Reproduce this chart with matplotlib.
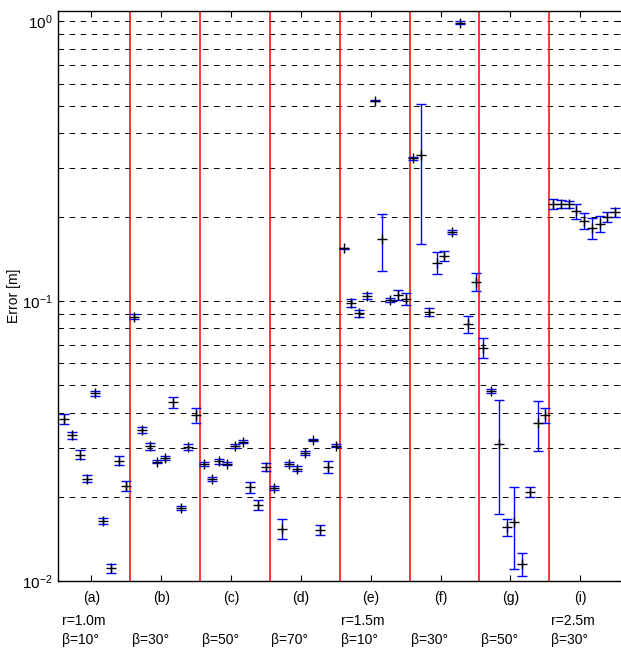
import numpy as np
import matplotlib
matplotlib.use("Agg")
import matplotlib.pyplot as plt
from matplotlib.transforms import blended_transform_factory

plt.rcParams["font.family"] = ["Liberation Sans", "DejaVu Sans"]
plt.rcParams["lines.scale_dashes"] = False

# one group per scenario, 9 runs each
group_labels = ["(a)", "(b)", "(c)", "(d)", "(e)", "(f)", "(g)", "(i)"]
radius_labels = ["r=1.0m", "", "", "", "r=1.5m", "", "", "r=2.5m"]
angle_labels = ["β=10°", "β=30°", "β=50°", "β=70°", "β=10°", "β=30°", "β=50°", "β=30°"]

error_mean = [
    [0.0379, 0.0332, 0.0283, 0.0232, 0.0468, 0.0164, 0.0111, 0.0269, 0.0219],
    [0.0880, 0.0346, 0.0303, 0.0267, 0.0275, 0.0436, 0.0183, 0.0302, 0.0391],
    [0.0262, 0.0231, 0.0268, 0.0263, 0.0304, 0.0315, 0.0216, 0.0187, 0.0256],
    [0.0215, 0.0154, 0.0262, 0.0252, 0.0286, 0.0319, 0.0152, 0.0256, 0.0305],
    [0.1546, 0.0988, 0.0905, 0.1046, 0.5200, 0.1665, 0.1010, 0.1052, 0.1018],
    [0.3246, 0.3335, 0.0912, 0.1373, 0.1455, 0.1764, 0.9900, 0.0829, 0.1174],
    [0.0682, 0.0478, 0.0308, 0.0156, 0.0163, 0.0115, 0.0208, 0.0366, 0.0392],
    [0.2228, 0.2228, 0.2218, 0.2094, 0.1943, 0.1832, 0.1886, 0.2001, 0.2077],
]

error_std = [
    [0.0015, 0.0009, 0.0010, 0.0007, 0.0010, 0.0004, 0.0004, 0.0010, 0.0009],
    [0.0017, 0.0008, 0.0008, 0.0003, 0.0004, 0.0020, 0.0003, 0.0007, 0.0025],
    [0.0004, 0.0004, 0.0006, 0.0004, 0.0005, 0.0003, 0.0010, 0.0007, 0.0008],
    [0.0004, 0.0013, 0.0005, 0.0005, 0.0005, 0.0003, 0.0006, 0.0013, 0.0003],
    [0.0010, 0.0033, 0.0025, 0.0025, 0.0020, 0.0380, 0.0015, 0.0044, 0.0050],
    [0.0040, 0.1730, 0.0030, 0.0125, 0.0060, 0.0030, 0.0100, 0.0060, 0.0085],
    [0.0054, 0.0008, 0.0135, 0.0011, 0.0053, 0.0011, 0.0008, 0.0075, 0.0025],
    [0.0095, 0.0080, 0.0070, 0.0130, 0.0130, 0.0160, 0.0125, 0.0075, 0.0070],
]

n_groups = len(error_mean)
n_runs = len(error_mean[0])
means = np.concatenate(error_mean)
stds = np.concatenate(error_std)
x = np.arange(1, n_groups * n_runs + 1)

fig = plt.figure(figsize=(6.21, 6.48), dpi=100)
ax = fig.add_axes([58 / 621, 67 / 648, 565 / 621, 570 / 648])

ax.set_yscale("log")
ax.set_ylim(0.01, 1.09)
ax.set_xlim(0.2, 73)

ax.grid(True, which="both", axis="y", color="k", linestyle=(0, (4, 4)), linewidth=0.7)
ax.set_axisbelow(True)

for k in range(1, n_groups):
    ax.axvline(k * n_runs + 0.5, color="red", linewidth=1.1, zorder=2)

ax.errorbar(x, means, yerr=stds, fmt="none", ecolor="#0000ff", elinewidth=1.0,
            capsize=3.6, capthick=1.0, zorder=3)
ax.plot(x, means, "+", color="k", markersize=6.5, markeredgewidth=1.0, zorder=4)

centers = np.arange(n_groups) * n_runs + 4.5
ax.set_xticks(centers)
ax.set_xticklabels(group_labels, fontsize=10)
ax.tick_params(axis="both", which="both", direction="in", top=True, right=True)
ax.tick_params(axis="x", length=4, pad=7)
ax.tick_params(axis="y", which="major", length=4, labelsize=11, pad=4)
ax.tick_params(axis="y", which="minor", length=2)

for spine in ax.spines.values():
    spine.set_linewidth(1.0)

ax.set_ylabel("Error [m]", fontsize=10)
ax.yaxis.set_label_coords(-0.066, 0.5)

trans = blended_transform_factory(ax.transData, fig.transFigure)
for k in range(n_groups):
    x0 = k * n_runs + 0.7
    if radius_labels[k]:
        ax.text(x0, 1 - 621 / 648, radius_labels[k], transform=trans,
                ha="left", va="center", fontsize=10, clip_on=False)
    ax.text(x0, 1 - 640 / 648, angle_labels[k], transform=trans,
            ha="left", va="center", fontsize=10, clip_on=False)

fig.savefig("out.png", dpi=100)
